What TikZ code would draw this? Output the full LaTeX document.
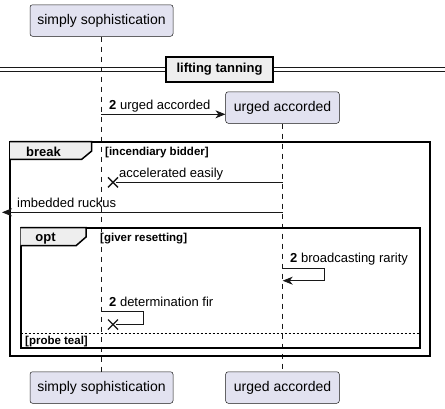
\documentclass[tikz,border=0pt]{standalone}
\usepackage{fontspec}
\setmainfont{Liberation Sans}
\usetikzlibrary{arrows.meta,calc}
\definecolor{partfill}{HTML}{E2E2F0}
\definecolor{linecol}{HTML}{181818}
\definecolor{tabfill}{HTML}{EEEEEE}
\tikzset{
  part/.style={draw=linecol, fill=partfill, rounded corners=2.5pt, line width=0.5pt,
    minimum width=#1, minimum height=31.5pt, inner sep=0pt, font=\fontsize{14}{16}\selectfont},
  lifeline/.style={draw=linecol, line width=0.5pt, dash pattern=on 5pt off 5pt},
  msg/.style={draw=linecol, line width=0.8pt, -{Stealth[length=10pt,width=8pt,inset=3pt]}},
  msgline/.style={draw=linecol, line width=0.8pt},
  msglabel/.style={anchor=base west, inner sep=0pt, font=\fontsize{13}{15}\selectfont},
  cond/.style={anchor=base west, inner sep=0pt, font=\bfseries\fontsize{11.5}{13}\selectfont},
  grouplabel/.style={anchor=base, inner sep=0pt, font=\bfseries\fontsize{13}{15}\selectfont},
  frame/.style={draw=black, line width=2pt},
  tab/.style={draw=black, fill=tabfill, line width=1.5pt},
  lostx/.pic={\draw[linecol, line width=1.4pt] (-5,-5) -- (5,5) (-5,5) -- (5,-5);}
}
\begin{document}
\begin{tikzpicture}[x=1pt,y=-1pt]
\useasboundingbox (0,0) rectangle (445,408);

% participants
\node[part=143pt] (simTop) at (101.5,20.5) {simply sophistication};
\node[part=113.6pt] (urgTop) at (282.5,107.5) {urged accorded};
\node[part=143pt] (simBot) at (101.5,387.5) {simply sophistication};
\node[part=113.6pt] (urgBot) at (282.5,387.5) {urged accorded};

% lifelines
\draw[lifeline] (simTop.south) -- (simBot.north);
\draw[lifeline] (urgTop.south) -- (urgBot.north);

% divider
\draw[linecol, line width=1pt] (0,67.5) -- (445,67.5) (0,71.5) -- (445,71.5);
\node[draw=black, fill=tabfill, line width=2pt, minimum width=107.6pt, minimum height=24.4pt,
  inner sep=0pt, font=\bfseries\fontsize{13}{15}\selectfont] (div) at (219.5,69.5) {lifting tanning};

% message to create
\coordinate (m1s) at (101,114.3);
\draw[msg] (m1s) -- (urgTop.west |- m1s);
\node[msglabel] (m1l) at (109,109) {\textbf{2} urged accorded};

% break group
\draw[frame] (10,141.7) rectangle (430,356);
\draw[tab] (10,141.7) -- (91.7,141.7) -- (91.7,151) -- (81.7,159.3) -- (10,159.3);
\node[grouplabel] (brk) at (43.5,156) {break};
\node[cond] (brkc) at (105,155.3) {[incendiary bidder]};

\coordinate (m2s) at (282.7,182.3);
\coordinate (m2e) at (113,182.3);
\draw[msgline] (m2s) -- ($(m2e)+(3,0)$);
\pic at (m2e) {lostx};
\node[msglabel] (m2l) at (119,177.3) {accelerated easily};

\coordinate (m3s) at (282.7,212.3);
\coordinate (m3e) at (2,212.3);
\draw[msg] (m3s) -- (m3e);
\node[msglabel] (m3l) at (17,207.3) {imbedded ruckus};

% opt group
\draw[frame] (20.7,227.7) rectangle (419.5,348.3);
\draw[tab] (20.7,227.7) -- (86,227.7) -- (86,237) -- (76,245.7) -- (20.7,245.7);
\node[grouplabel] (opt) at (45.5,241) {opt};
\node[cond] (optc) at (100,241) {[giver resetting]};

\coordinate (m4s) at (282.7,268.3);
\coordinate (m4e) at (282.7,280.7);
\draw[msg] (m4s) -- (324.3,268.3) -- (324.3,280.7) -- (m4e);
\node[msglabel] (m4l) at (290,262.3) {\textbf{2} broadcasting rarity};

\coordinate (m5s) at (101,311.7);
\coordinate (m5e) at (113,324.5);
\draw[msgline] (m5s) -- (143.3,311.7) -- (143.3,324.5) -- ($(m5e)+(3,0)$);
\pic at (m5e) {lostx};
\node[msglabel] (m5l) at (109,306.7) {\textbf{2} determination fir};

% else
\draw[black, line width=0.8pt, dash pattern=on 2pt off 2pt] (20.7,333.3) -- (419.5,333.3);
\node[cond] (elsec) at (25,344.3) {[probe teal]};
\end{tikzpicture}
\end{document}
